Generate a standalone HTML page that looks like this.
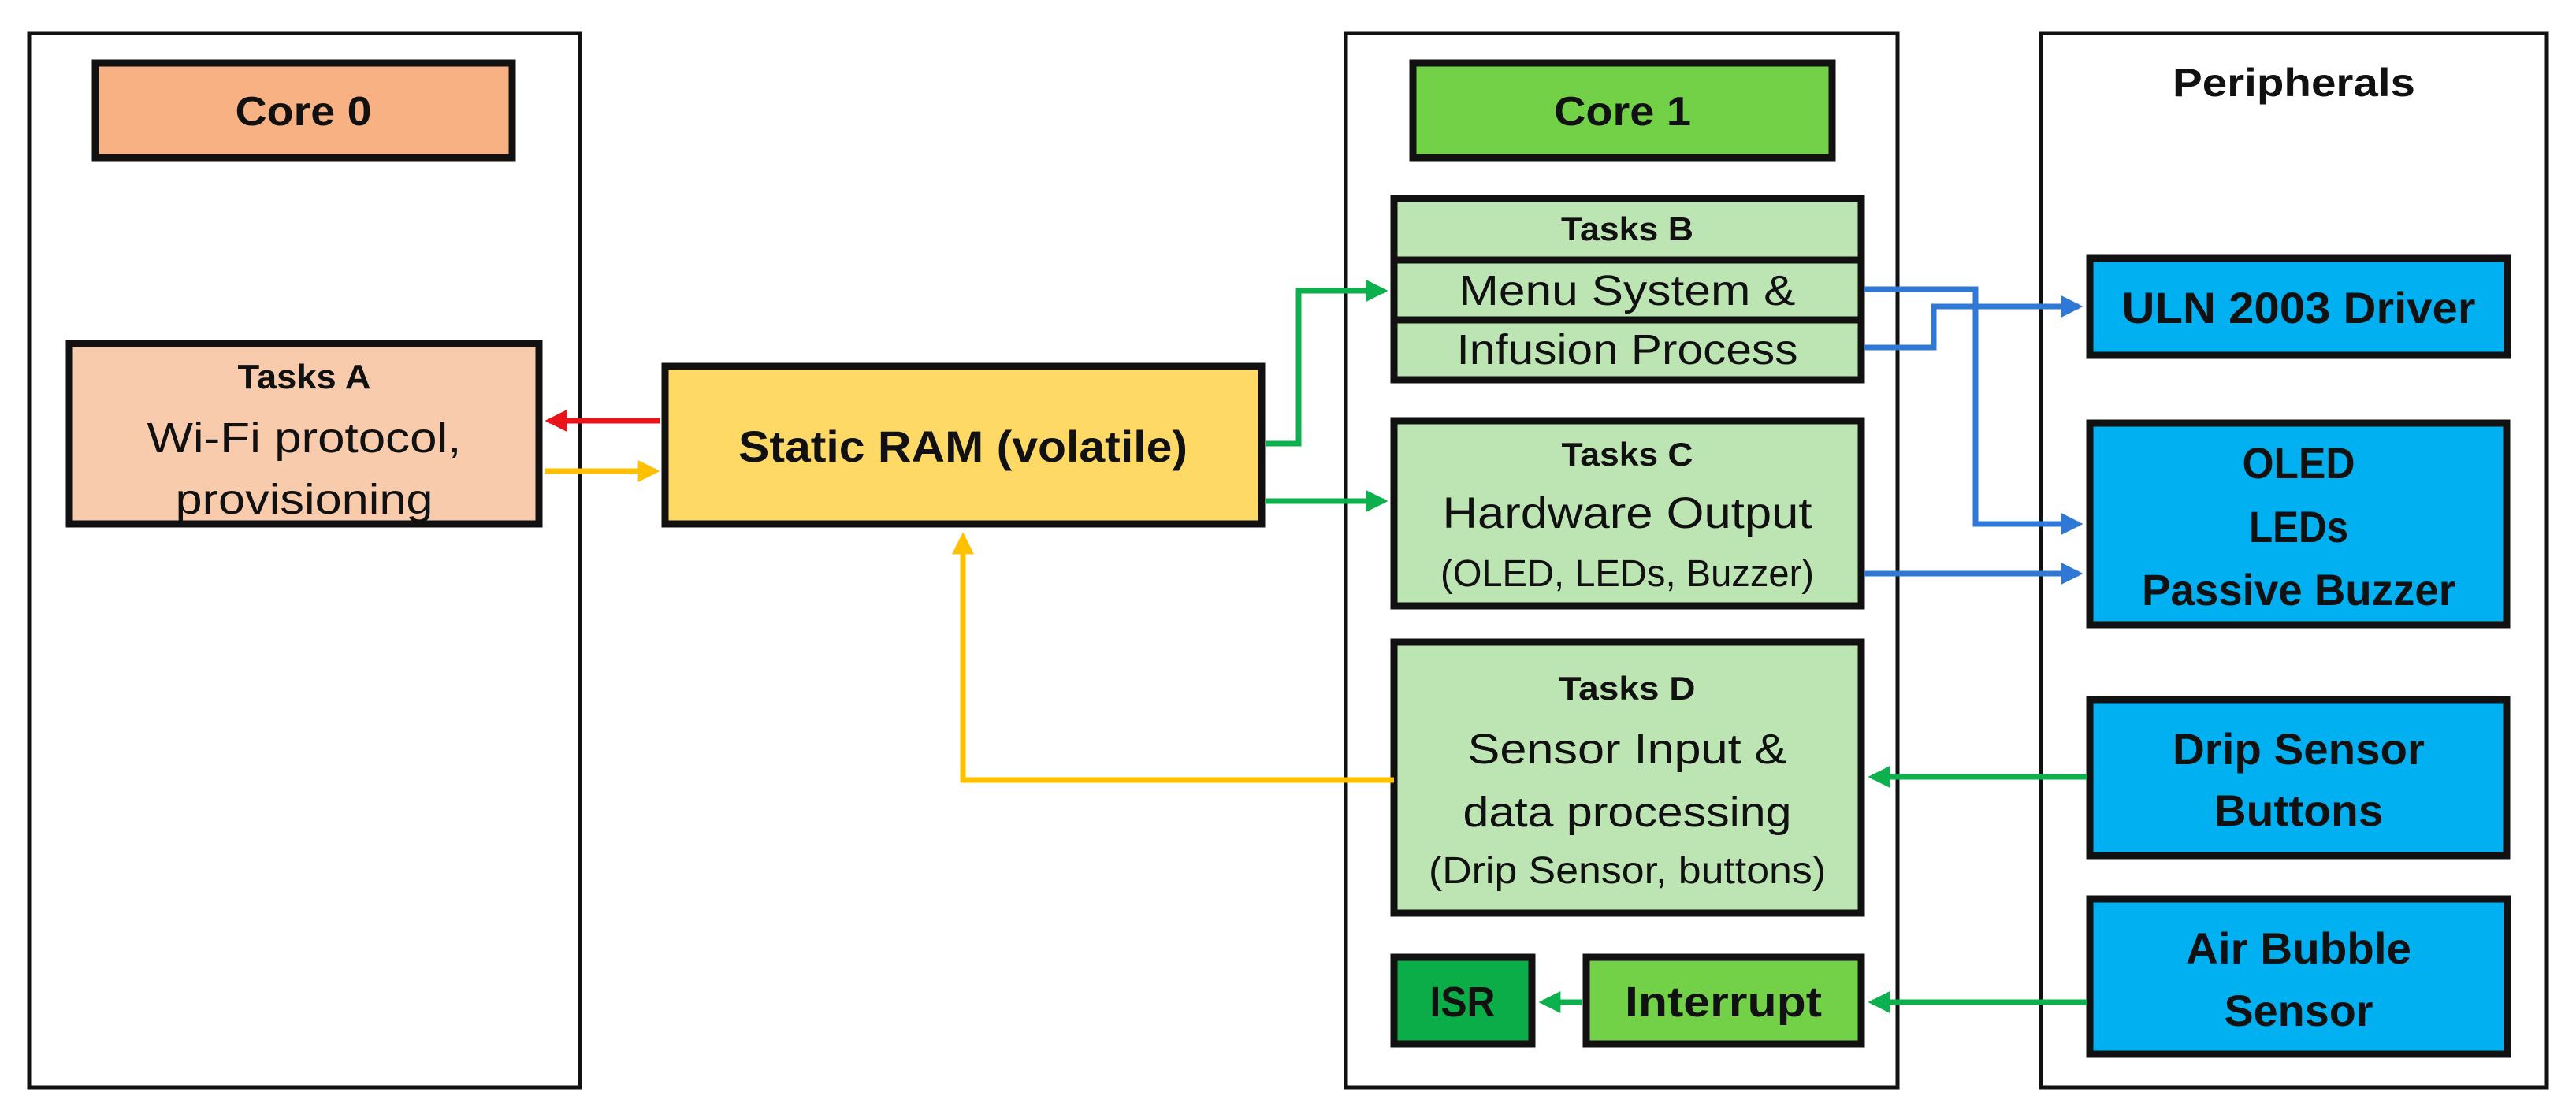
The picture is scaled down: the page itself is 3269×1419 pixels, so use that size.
<!DOCTYPE html>
<html><head><meta charset="utf-8"><style>
html,body{margin:0;padding:0;background:#fff;}
svg{display:block;}
text{font-family:"Liberation Sans",sans-serif;fill:#111;text-anchor:middle;}
.b{font-weight:bold;}
</style></head><body>
<svg width="3269" height="1419" viewBox="0 0 3269 1419" xmlns="http://www.w3.org/2000/svg">
<defs>
<marker id="ag" markerWidth="4" markerHeight="4" refX="3.2" refY="2" orient="auto" markerUnits="strokeWidth"><path d="M0,0 L4,2 L0,4 z" fill="#0cb14e"/></marker>
<marker id="ay" markerWidth="4" markerHeight="4" refX="3.2" refY="2" orient="auto" markerUnits="strokeWidth"><path d="M0,0 L4,2 L0,4 z" fill="#ffc000"/></marker>
<marker id="ar" markerWidth="4" markerHeight="4" refX="3.2" refY="2" orient="auto" markerUnits="strokeWidth"><path d="M0,0 L4,2 L0,4 z" fill="#e8131b"/></marker>
<marker id="ab" markerWidth="4" markerHeight="4" refX="3.2" refY="2" orient="auto" markerUnits="strokeWidth"><path d="M0,0 L4,2 L0,4 z" fill="#2f78d6"/></marker>
</defs>
<rect x="37" y="42" width="699" height="1338" fill="#fff" stroke="#111" stroke-width="5"/>
<rect x="1708" y="42" width="700" height="1338" fill="#fff" stroke="#111" stroke-width="5"/>
<rect x="2590" y="42" width="642" height="1338" fill="#fff" stroke="#111" stroke-width="5"/>

<rect x="121" y="80" width="529" height="120" fill="#f8b183" stroke="#111" stroke-width="9"/>
<text x="385" y="159" class="b" font-size="52" textLength="173" lengthAdjust="spacingAndGlyphs">Core 0</text>
<rect x="88" y="436" width="596" height="229" fill="#f8cbad" stroke="#111" stroke-width="9"/>
<text x="386" y="493" class="b" font-size="44" textLength="169" lengthAdjust="spacingAndGlyphs">Tasks A</text>
<text x="386" y="574" font-size="54" textLength="399" lengthAdjust="spacingAndGlyphs">Wi-Fi protocol,</text>
<text x="386" y="652" font-size="54" textLength="327" lengthAdjust="spacingAndGlyphs">provisioning</text>
<rect x="844" y="465" width="757" height="200" fill="#ffd966" stroke="#111" stroke-width="9"/>
<text x="1222" y="586" class="b" font-size="56" textLength="570" lengthAdjust="spacingAndGlyphs">Static RAM (volatile)</text>

<rect x="1793" y="80" width="532" height="120" fill="#72d146" stroke="#111" stroke-width="9"/>
<text x="2059" y="159" class="b" font-size="52" textLength="174" lengthAdjust="spacingAndGlyphs">Core 1</text>
<rect x="1769" y="252" width="593" height="230" fill="#bde5b4" stroke="#111" stroke-width="9"/>
<line x1="1769" y1="330" x2="2362" y2="330" stroke="#111" stroke-width="9"/>
<line x1="1769" y1="406" x2="2362" y2="406" stroke="#111" stroke-width="9"/>
<text x="2065" y="305" class="b" font-size="42" textLength="168" lengthAdjust="spacingAndGlyphs">Tasks B</text>
<text x="2065" y="387" font-size="54" textLength="427" lengthAdjust="spacingAndGlyphs">Menu System &amp;</text>
<text x="2065" y="462" font-size="54" textLength="433" lengthAdjust="spacingAndGlyphs">Infusion Process</text>
<rect x="1769" y="534" width="593" height="235" fill="#bde5b4" stroke="#111" stroke-width="9"/>
<text x="2065" y="591" class="b" font-size="42" textLength="167" lengthAdjust="spacingAndGlyphs">Tasks C</text>
<text x="2065" y="670" font-size="56" textLength="469" lengthAdjust="spacingAndGlyphs">Hardware Output</text>
<text x="2065" y="744" font-size="48" textLength="474" lengthAdjust="spacingAndGlyphs">(OLED, LEDs, Buzzer)</text>
<rect x="1769" y="815" width="593" height="344" fill="#bde5b4" stroke="#111" stroke-width="9"/>
<text x="2065" y="888" class="b" font-size="42" textLength="173" lengthAdjust="spacingAndGlyphs">Tasks D</text>
<text x="2065" y="969" font-size="54" textLength="405" lengthAdjust="spacingAndGlyphs">Sensor Input &amp;</text>
<text x="2065" y="1049" font-size="54" textLength="417" lengthAdjust="spacingAndGlyphs">data processing</text>
<text x="2065" y="1121" font-size="48" textLength="504" lengthAdjust="spacingAndGlyphs">(Drip Sensor, buttons)</text>
<rect x="1769" y="1215" width="175" height="110" fill="#0aad48" stroke="#111" stroke-width="9"/>
<text x="1856" y="1290" class="b" font-size="54" textLength="83" lengthAdjust="spacingAndGlyphs">ISR</text>
<rect x="2013" y="1215" width="349" height="110" fill="#72d146" stroke="#111" stroke-width="9"/>
<text x="2187" y="1290" class="b" font-size="54" textLength="250" lengthAdjust="spacingAndGlyphs">Interrupt</text>

<text x="2911" y="122" class="b" font-size="50" textLength="308" lengthAdjust="spacingAndGlyphs">Peripherals</text>
<rect x="2652" y="328" width="530" height="123" fill="#00b0f0" stroke="#111" stroke-width="9"/>
<text x="2917" y="410" class="b" font-size="56" textLength="449" lengthAdjust="spacingAndGlyphs">ULN 2003 Driver</text>
<rect x="2652" y="537" width="529" height="256" fill="#00b0f0" stroke="#111" stroke-width="9"/>
<text x="2917" y="607" class="b" font-size="56" textLength="143" lengthAdjust="spacingAndGlyphs">OLED</text>
<text x="2917" y="688" class="b" font-size="56" textLength="126" lengthAdjust="spacingAndGlyphs">LEDs</text>
<text x="2917" y="768" class="b" font-size="56" textLength="398" lengthAdjust="spacingAndGlyphs">Passive Buzzer</text>
<rect x="2652" y="888" width="529" height="198" fill="#00b0f0" stroke="#111" stroke-width="9"/>
<text x="2917" y="970" class="b" font-size="56" textLength="320" lengthAdjust="spacingAndGlyphs">Drip Sensor</text>
<text x="2917" y="1048" class="b" font-size="56" textLength="215" lengthAdjust="spacingAndGlyphs">Buttons</text>
<rect x="2652" y="1141" width="530" height="197" fill="#00b0f0" stroke="#111" stroke-width="9"/>
<text x="2917" y="1223" class="b" font-size="56" textLength="286" lengthAdjust="spacingAndGlyphs">Air Bubble</text>
<text x="2917" y="1302" class="b" font-size="56" textLength="189" lengthAdjust="spacingAndGlyphs">Sensor</text>

<g fill="none" stroke-width="7">
<polyline points="838,534 697,534" stroke="#e8131b" marker-end="url(#ar)"/>
<polyline points="691,598 832,598" stroke="#ffc000" marker-end="url(#ay)"/>
<polyline points="1606,563 1648,563 1648,369 1756,369" stroke="#0cb14e" marker-end="url(#ag)"/>
<polyline points="1606,636 1756,636" stroke="#0cb14e" marker-end="url(#ag)"/>
<polyline points="1769,990 1222,990 1222,681" stroke="#ffc000" marker-end="url(#ay)"/>
<polyline points="2366,367 2507,367 2507,665 2638,665" stroke="#2f78d6" marker-end="url(#ab)"/>
<polyline points="2366,441 2454,441 2454,389 2638,389" stroke="#2f78d6" marker-end="url(#ab)"/>
<polyline points="2366,728 2638,728" stroke="#2f78d6" marker-end="url(#ab)"/>
<polyline points="2648,986 2376,986" stroke="#0cb14e" marker-end="url(#ag)"/>
<polyline points="2648,1272 2376,1272" stroke="#0cb14e" marker-end="url(#ag)"/>
<polyline points="2008,1272 1958,1272" stroke="#0cb14e" marker-end="url(#ag)"/>
</g>
</svg>
</body></html>
